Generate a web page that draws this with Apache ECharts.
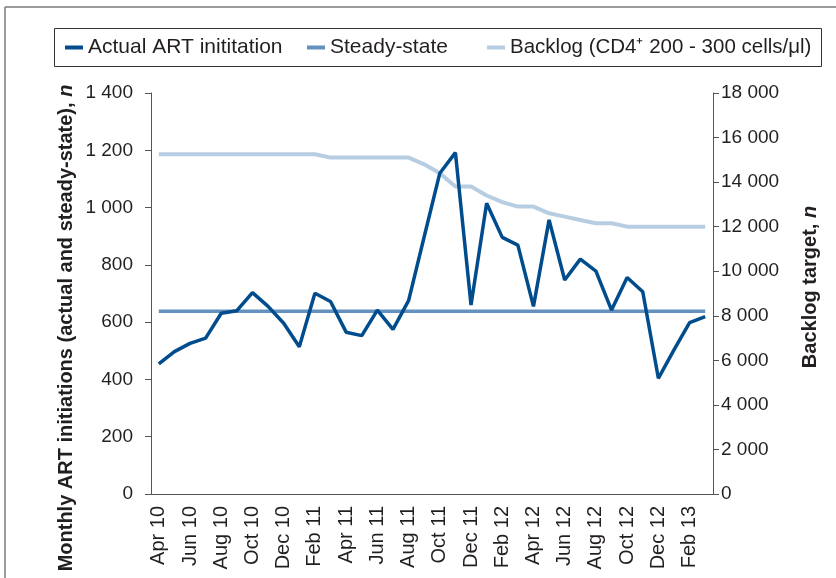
<!DOCTYPE html>
<html>
<head>
<meta charset="UTF-8">
<title>ART initiation</title>
<script src="https://cdn.jsdelivr.net/npm/echarts@6/dist/echarts.min.js"></script>
<style>
  html, body { margin: 0; padding: 0; background: #fff; }
  #main { width: 836px; height: 578px; }
</style>
</head>
<body>
<div id="main"></div>
<script>
// months Apr 10 .. Mar 13
var months = ['Apr 10','May 10','Jun 10','Jul 10','Aug 10','Sep 10','Oct 10','Nov 10','Dec 10','Jan 11','Feb 11','Mar 11',
  'Apr 11','May 11','Jun 11','Jul 11','Aug 11','Sep 11','Oct 11','Nov 11','Dec 11','Jan 12','Feb 12','Mar 12',
  'Apr 12','May 12','Jun 12','Jul 12','Aug 12','Sep 12','Oct 12','Nov 12','Dec 12','Jan 13','Feb 13','Mar 13'];
var actual = [454, 497, 526, 544, 631, 640, 703, 655, 596, 514, 701, 672,
  565, 553, 642, 575, 675, 898, 1120, 1192, 660, 1015, 896, 869,
  655, 957, 747, 820, 778, 642, 756, 706, 404, 503, 598, 619];
var steadyValue = 638;
var steady = months.map(function () { return steadyValue; });
var backlog = [15250, 15250, 15250, 15250, 15250, 15250, 15250, 15250, 15250, 15250, 15250, 15100,
  15100, 15100, 15100, 15100, 15100, 14800, 14400, 13800, 13800, 13400, 13100, 12900,
  12900, 12600, 12450, 12300, 12150, 12150, 12000, 12000, 12000, 12000, 12000, 12000];
var leftTicks = [0, 1400, 200];
var rightTicks = [0, 18000, 2000];

var names = ['Actual ART inititation', 'Steady-state', 'Backlog (CD4\u207A 200 - 300 cells/\u03BCl)'];
var colors = ['#004c8c', '#6491be', '#b7cde2'];
var ink = '#231f20';

function spaced(v) {
  return String(v).replace(/\B(?=(\d{3})+(?!\d))/g, ' ');
}

var myChart = echarts.init(document.getElementById('main'));
var legendBase = {
  orient: 'horizontal', top: 37, padding: 0, icon: 'rect',
  itemWidth: 18, itemHeight: 4,
  textStyle: { fontFamily: 'Liberation Sans', fontSize: 21, color: ink }
};
var option = {
  animation: false,
  textStyle: { fontFamily: 'Liberation Sans' },
  graphic: [
    { type: 'line', shape: { x1: 5, y1: 7, x2: 836, y2: 7 }, style: { stroke: '#7a7a7a', lineWidth: 1.5 } },
    { type: 'line', shape: { x1: 5, y1: 7, x2: 5, y2: 578 }, style: { stroke: '#7a7a7a', lineWidth: 1.5 } },
    { type: 'rect', shape: { x: 54.5, y: 28.5, width: 767, height: 38 }, style: { fill: 'none', stroke: '#333', lineWidth: 1 } },
    {
      type: 'text', x: 66, y: 328, rotation: Math.PI / 2,
      style: {
        text: '{b|Monthly ART initiations (actual and steady-state), }{i|n}',
        align: 'center', verticalAlign: 'middle',
        rich: {
          b: { fontFamily: 'Liberation Sans', fontWeight: 'bold', fontSize: 20, fill: ink },
          i: { fontFamily: 'Liberation Sans', fontWeight: 'bold', fontStyle: 'italic', fontSize: 20, fill: ink }
        }
      }
    },
    {
      type: 'text', x: 810, y: 287, rotation: Math.PI / 2,
      style: {
        text: '{b|Backlog target, }{i|n}',
        align: 'center', verticalAlign: 'middle',
        rich: {
          b: { fontFamily: 'Liberation Sans', fontWeight: 'bold', fontSize: 20, fill: ink },
          i: { fontFamily: 'Liberation Sans', fontWeight: 'bold', fontStyle: 'italic', fontSize: 20, fill: ink }
        }
      }
    }
  ],
  legend: [
    Object.assign({}, legendBase, { left: 65, data: [names[0]] }),
    Object.assign({}, legendBase, { left: 307, data: [names[1]] }),
    Object.assign({}, legendBase, { left: 487, data: [names[2]],
      textStyle: { fontFamily: 'Liberation Sans', fontSize: 20.5, color: ink } })
  ],
  grid: { left: 151, right: 123, top: 93, bottom: 84 },
  xAxis: {
    type: 'category',
    data: months,
    boundaryGap: true,
    axisLine: { lineStyle: { color: '#555', width: 1 } },
    axisTick: { show: false },
    axisLabel: { interval: 1, rotate: 90, margin: 12, fontSize: 20, color: ink, fontFamily: 'Liberation Sans' }
  },
  yAxis: [
    {
      type: 'value', min: leftTicks[0], max: leftTicks[1], interval: leftTicks[2],
      position: 'left',
      splitLine: { show: false },
      axisLine: { show: true, lineStyle: { color: '#555', width: 1 } },
      axisTick: { show: true, length: 6, lineStyle: { color: '#555' } },
      axisLabel: { margin: 18, fontSize: 19, color: ink, fontFamily: 'Liberation Sans', formatter: spaced }
    },
    {
      type: 'value', min: rightTicks[0], max: rightTicks[1], interval: rightTicks[2],
      position: 'right',
      splitLine: { show: false },
      axisLine: { show: true, lineStyle: { color: '#555', width: 1 } },
      axisTick: { show: true, length: 6, lineStyle: { color: '#555' } },
      axisLabel: { margin: 8, fontSize: 19, color: ink, fontFamily: 'Liberation Sans', formatter: spaced }
    }
  ],
  series: [
    { name: names[2], type: 'line', yAxisIndex: 1, data: backlog, symbol: 'none', z: 1,
      color: colors[2], lineStyle: { width: 4, color: colors[2] } },
    { name: names[1], type: 'line', data: steady, symbol: 'none', z: 2,
      color: colors[1], lineStyle: { width: 3.5, color: colors[1] } },
    { name: names[0], type: 'line', data: actual, symbol: 'none', z: 3,
      color: colors[0], lineStyle: { width: 3.5, color: colors[0] } }
  ]
};
myChart.setOption(option);
</script>
</body>
</html>
